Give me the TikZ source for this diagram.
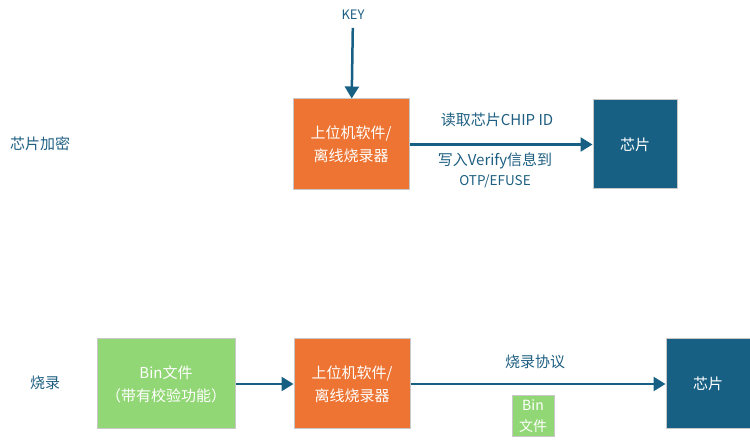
\documentclass[tikz,border=0pt]{standalone}
\usepackage{fontspec}
\newfontfamily\cjk{Noto Sans CJK SC}
\usepackage{tikz}
\usetikzlibrary{positioning,arrows.meta}
\definecolor{burnorange}{HTML}{ED7432}
\definecolor{chipblue}{HTML}{176084}
\definecolor{bingreen}{HTML}{92D775}
\definecolor{labelblue}{HTML}{1E5F82}
\definecolor{edgegray}{HTML}{C8C8C8}

\begin{document}
\begin{tikzpicture}[x=1pt,y=-1pt,node distance=10pt,>={Triangle[length=12pt,width=14pt]},
    box/.style={draw=edgegray, line width=1pt, rectangle, inner sep=0pt, text=white, align=center,
      font=\cjk\fontsize{15}{23}\selectfont},
    lbl/.style={text=labelblue, align=center, inner sep=0pt, font=\cjk\fontsize{15}{20}\selectfont},
    link/.style={->, draw=chipblue, line width=2.5pt}]
    \useasboundingbox (0,0) rectangle (750,443);
    % chip encryption
    \node[lbl] (enc) at (40,144) {芯片加密};
    \node[box, fill=burnorange, minimum width=116pt, minimum height=91pt] (burner1) at (351,144.5) {上位机软件/\\离线烧录器};
    \node[box, fill=chipblue, minimum width=84pt, minimum height=89pt, right=183pt of burner1] (chip1) {芯片};
    \node[lbl, font=\cjk\fontsize{13}{14}\selectfont] (key) at (353,15) {KEY};
    \draw[link, shorten <=8pt] (key) -- (burner1);
    \draw[link] (burner1) -- (chip1);
    \node[lbl] (readid) at (497,120) {读取芯片CHIP ID};
    \node[lbl] (writever) at (495,170) {写入Verify信息到\\{\fontsize{13.5}{20}\selectfont OTP/EFUSE}};
    % burning
    \node[lbl] (burn) at (45,383) {烧录};
    \node[box, fill=bingreen, minimum width=138pt, minimum height=90pt] (bin) at (166,384) {Bin文件\\（带有校验功能）};
    \node[box, fill=burnorange, minimum width=116pt, minimum height=90pt, right=58pt of bin] (burner2) {上位机软件/\\离线烧录器};
    \node[box, fill=chipblue, minimum width=84pt, minimum height=90pt, right=255pt of burner2] (chip2) {芯片};
    \draw[link] (bin) -- (burner2);
    \draw[link] (burner2) -- (chip2);
    \node[lbl] (proto) at (535,362) {烧录协议};
    \node[box, fill=bingreen, minimum width=42pt, minimum height=41pt, font=\cjk\fontsize{14}{21}\selectfont] (binsmall) at (533,416.5) {Bin\\文件};
\end{tikzpicture}
\end{document}
